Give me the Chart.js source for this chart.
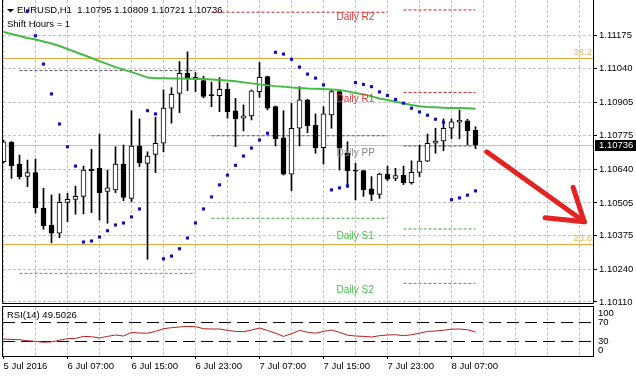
<!DOCTYPE html>
<html><head><meta charset="utf-8">
<script src="https://cdn.jsdelivr.net/npm/chart.js@4.4.1/dist/chart.umd.min.js"></script>
<style>
html,body{margin:0;padding:0;background:#fff;width:636px;height:378px;overflow:hidden;}
#main{position:absolute;left:0;top:0;}
#rsi{position:absolute;left:0;top:304px;}
</style></head><body>
<canvas id="main" width="636" height="308"></canvas>
<canvas id="rsi" width="636" height="74"></canvas>
<script>
// ---------- data ----------
const symbolTitle = 'EURUSD,H1  1.10795 1.10809 1.10721 1.10736';
const shiftText = 'Shift Hours = 1';
const rsiTitle = 'RSI(14) 49.5026';
const timeLabels = ['5 Jul 2016','6 Jul 07:00','6 Jul 15:00','6 Jul 23:00','7 Jul 07:00','7 Jul 15:00','7 Jul 23:00','8 Jul 07:00'];
const priceTicks = [1.11175,1.11040,1.10905,1.10775,1.10640,1.10505,1.10375,1.10240,1.10110];
const rsiTicks = [0,30,70,100];

const opens = [1.10670,1.10748,1.10660,1.10611,1.10626,1.10484,1.10417,1.10384,1.10507,1.10519,
1.10531,1.10640,1.10643,1.10551,1.10557,1.10660,1.10523,1.10732,1.10663,1.10699,
1.10743,1.10883,1.10942,1.11022,1.11006,1.10993,1.10934,1.10933,1.10958,1.10872,
1.10843,1.10852,1.10949,1.11009,1.10889,1.10765,1.10620,1.10803,1.10916,1.10816,
1.10725,1.10856,1.10949,1.10703,1.10635,1.10634,1.10561,1.10539,1.10620,1.10603,
1.10615,1.10586,1.10627,1.10672,1.10743,1.10752,1.10803,1.10827,1.10833,1.10795];
const highs = [1.10756,1.10750,1.10696,1.10676,1.10680,1.10563,1.10537,1.10541,1.10543,1.10572,
1.10652,1.10719,1.10780,1.10636,1.10729,1.10736,1.10873,1.10840,1.10709,1.10847,
1.10956,1.10965,1.11069,1.11108,1.11025,1.11011,1.10987,1.11005,1.10982,1.10922,
1.10896,1.10956,1.11065,1.11011,1.10892,1.10873,1.10902,1.10969,1.10918,1.10860,
1.10889,1.10956,1.10953,1.10749,1.10663,1.10636,1.10610,1.10624,1.10652,1.10643,
1.10652,1.10673,1.10736,1.10780,1.10803,1.10840,1.10840,1.10876,1.10839,1.10809];
const lows = [1.10664,1.10603,1.10600,1.10570,1.10464,1.10400,1.10346,1.10366,1.10430,1.10460,
1.10461,1.10466,1.10437,1.10424,1.10546,1.10514,1.10510,1.10650,1.10280,1.10626,
1.10709,1.10823,1.10865,1.10953,1.10949,1.10924,1.10889,1.10869,1.10843,1.10729,
1.10792,1.10836,1.10926,1.10876,1.10732,1.10616,1.10554,1.10732,1.10785,1.10703,
1.10660,1.10803,1.10636,1.10567,1.10517,1.10531,1.10514,1.10523,1.10594,1.10594,
1.10578,1.10580,1.10610,1.10670,1.10703,1.10713,1.10761,1.10761,1.10736,1.10721];
const closes = [1.10749,1.10654,1.10610,1.10626,1.10486,1.10414,1.10384,1.10507,1.10519,1.10531,
1.10636,1.10634,1.10546,1.10565,1.10660,1.10527,1.10732,1.10666,1.10692,1.10743,
1.10883,1.10938,1.11022,1.11005,1.10999,1.10930,1.10933,1.10958,1.10869,1.10840,
1.10852,1.10952,1.11006,1.10883,1.10760,1.10620,1.10803,1.10916,1.10813,1.10725,
1.10860,1.10949,1.10724,1.10634,1.10632,1.10557,1.10539,1.10620,1.10600,1.10614,
1.10586,1.10627,1.10672,1.10743,1.10752,1.10803,1.10829,1.10836,1.10793,1.10736];
const maValues = [1.11187,1.11179,1.11171,1.11163,1.11157,1.11149,1.11141,1.11131,1.11119,1.11107,
1.11095,1.11083,1.11071,1.11059,1.11047,1.11037,1.11027,1.11017,1.11005,1.11002,
1.11002,1.11001,1.11001,1.11000,1.10999,1.10999,1.10997,1.10995,1.10993,1.10990,
1.10986,1.10982,1.10978,1.10974,1.10971,1.10969,1.10966,1.10964,1.10962,1.10961,
1.10960,1.10958,1.10956,1.10950,1.10944,1.10938,1.10930,1.10922,1.10916,1.10909,
1.10903,1.10896,1.10891,1.10888,1.10887,1.10885,1.10884,1.10884,1.10883,1.10881];
const sarValues = [null,null,null,1.11271,1.11172,1.11059,1.10940,1.10820,1.10729,1.10652,
1.10349,1.10353,1.10369,1.10394,1.10417,1.10425,1.10449,1.10481,1.10873,1.10860,
1.10282,1.10293,1.10322,1.10365,1.10425,1.10481,1.10529,1.10577,1.10616,1.10655,
1.10692,1.10724,1.10756,1.10783,1.11106,1.11099,1.11078,1.11047,1.11019,1.11003,
1.10976,1.10557,1.10565,1.10573,1.10985,1.10978,1.10969,1.10948,1.10934,1.10918,
1.10903,1.10883,1.10868,1.10855,1.10839,1.10827,1.10518,1.10525,1.10536,1.10553];
const rsiValues = [35.1,34.2,33.6,31.5,30.1,28.5,29.1,32.6,35.7,36.3,
40.4,39.8,37.1,40.4,43.3,41.2,48.7,47.4,47.0,50.7,
56.3,58.4,59.8,61.0,60.4,56.3,55.7,55.7,52.8,50.7,
50.1,53.6,57.7,52.8,47.0,40.4,46.0,52.8,49.1,47.0,
50.7,53.6,48.7,42.9,41.2,40.4,39.2,41.9,43.3,43.9,
41.9,43.9,47.0,50.7,51.5,53.2,55.3,55.7,54.2,49.5];

const pivotStart = [2,26,50];
const pivotEnd   = [24,48,59];
const pivotR2 = [null,null,1.11275];
const pivotR1 = [null,1.11266,1.10946];
const pivotPP = [1.11033,1.10773,1.10732];
const pivotS1 = [1.10224,1.10444,1.10401];
const pivotS2 = [null,null,1.10184];
const fiboLevels = [1.11082,1.10340];
const fiboLabels = ['38.2','23.6'];
const bidPrice = 1.10736;
const rsiLevels = [30,70];

// ---------- setup ----------
Chart.defaults.font.family = 'Liberation Sans';
const FONT = '9.5px "Liberation Sans"';
const idx = opens.map((_, i) => i);
const xMin = -0.0625, xMax = 73.6875;
const yMax = 1.11175 + 35 * 0.0000399, yMin = 1.11175 - 268 * 0.0000399;
const gridK = []; for (let k = 0; k <= 72; k += 4) gridK.push(k);

const RED = '#cc2020', GRAY = '#5a5a5a', GREEN = '#3aaa3a';
const pivotSets = [];
[[pivotR2, RED],[pivotR1, RED],[pivotPP, GRAY],[pivotS1, GREEN],[pivotS2, GREEN]].forEach(([vals, col]) => {
  vals.forEach((v, d) => {
    if (v == null) return;
    pivotSets.push({type:'line', data:[{x:pivotStart[d], y:v},{x:pivotEnd[d], y:v}],
      borderColor:col, borderWidth:1, borderDash:[3,2], pointRadius:0, fill:false, order:10});
  });
});

const mainPlugin = {
  id:'mainDeco',
  beforeDatasetsDraw(chart){
    const {ctx, chartArea:a, scales:{y}} = chart;
    ctx.save();
    ctx.lineWidth = 1;
    let py = Math.round(y.getPixelForValue(bidPrice)) + 0.5;
    ctx.strokeStyle = '#c0c0c0';
    ctx.beginPath(); ctx.moveTo(a.left, py); ctx.lineTo(a.right, py); ctx.stroke();
    ctx.strokeStyle = '#e8a840';
    fiboLevels.forEach(v => {
      const p = Math.round(y.getPixelForValue(v)) + 0.5;
      ctx.beginPath(); ctx.moveTo(a.left, p); ctx.lineTo(a.right, p); ctx.stroke();
    });
    ctx.fillStyle = '#000';
    ctx.beginPath(); ctx.moveTo(7, 9); ctx.lineTo(14, 9); ctx.lineTo(10.5, 12.5); ctx.closePath(); ctx.fill();
    ctx.font = FONT; ctx.textBaseline = 'middle'; ctx.textAlign = 'left';
    ctx.fillText(symbolTitle, 17, 10.5);
    ctx.fillText(shiftText, 7, 24);
    ctx.restore();
  },
  afterDraw(chart){
    const {ctx, chartArea:a, scales:{x, y}} = chart;
    ctx.save();
    ctx.font = '10px "Liberation Sans"'; ctx.textBaseline = 'middle'; ctx.textAlign = 'left';
    const lx = x.getPixelForValue(pivotStart[2]) - 67;
    [['Daily R2', pivotR2[2], '#dd3a3a'],['Daily R1', pivotR1[2], '#dd3a3a'],['Daily PP', pivotPP[2], '#8a8a8a'],
     ['Daily S1', pivotS1[2], '#4cc04c'],['Daily S2', pivotS2[2], '#4cc04c']].forEach(([t, v, c]) => {
      ctx.fillStyle = c; ctx.fillText(t, lx, y.getPixelForValue(v) + 7);
    });
    ctx.font = FONT; ctx.textAlign = 'right'; ctx.fillStyle = '#f0b450';
    fiboLevels.forEach((v, i) => ctx.fillText(fiboLabels[i], a.right - 1, y.getPixelForValue(v) - 6));
    ctx.strokeStyle = '#000'; ctx.lineWidth = 1;
    ctx.beginPath();
    ctx.moveTo(a.left - 0.5, a.top); ctx.lineTo(a.left - 0.5, a.bottom + 0.5);
    ctx.lineTo(a.right + 0.5, a.bottom + 0.5); ctx.lineTo(a.right + 0.5, a.top);
    ctx.stroke();
    const py = Math.round(y.getPixelForValue(bidPrice));
    ctx.fillStyle = '#000'; ctx.fillRect(a.right + 2, py - 5, chart.width - a.right - 2, 11);
    ctx.fillStyle = '#fff'; ctx.textAlign = 'left'; ctx.font = FONT;
    ctx.fillText(bidPrice.toFixed(5), a.right + 6, py + 0.5);
    const P = (k, v) => [x.getPixelForValue(k), y.getPixelForValue(v)];
    const s = P(60.4, 1.10709), t = P(72.6, 1.10430), w1 = P(71.2, 1.10567), w2 = P(67.7, 1.10446);
    ctx.strokeStyle = '#e32222'; ctx.lineWidth = 5; ctx.lineCap = 'round'; ctx.lineJoin = 'round';
    ctx.beginPath(); ctx.moveTo(s[0], s[1]); ctx.lineTo(t[0], t[1]); ctx.stroke();
    ctx.beginPath(); ctx.moveTo(w1[0], w1[1]); ctx.lineTo(t[0], t[1]); ctx.lineTo(w2[0], w2[1]); ctx.stroke();
    ctx.restore();
  }
};

new Chart(document.getElementById('main'), {
  type:'bar',
  data:{datasets:[
    {type:'line', data: idx.map(i => ({x:i, y:sarValues[i]})), showLine:false, pointStyle:'rect',
     pointRadius:2.2, pointBorderWidth:0, pointBackgroundColor:'#1010b4', borderColor:'#1010b4', order:1},
    {type:'line', data: idx.map(i => ({x:i, y:maValues[i]})), borderColor:'#45bb45', borderWidth:2,
     pointRadius:0, tension:0, fill:false, order:2},
    {type:'bar', data: idx.map(i => ({x:i, y:[opens[i], closes[i]]})),
     backgroundColor: c => closes[c.dataIndex] >= opens[c.dataIndex] ? '#ffffff' : '#000000',
     borderColor:'#000', borderWidth:1, borderSkipped:false, barThickness:5, grouped:false, minBarLength:1, order:5},
    {type:'bar', data: idx.map(i => ({x:i, y:[lows[i], highs[i]]})),
     backgroundColor:'#000', borderWidth:0, barThickness:1, grouped:false, order:6},
    ...pivotSets
  ]},
  options:{
    responsive:false, animation:false, events:[],
    layout:{autoPadding:false, padding:{left:3, top:0, right:0, bottom:5}},
    plugins:{legend:{display:false}, tooltip:{enabled:false}},
    scales:{
      x:{type:'linear', min:xMin, max:xMax, bounds:'data', offset:false,
         afterBuildTicks: s => { s.ticks = gridK.map(v => ({value:v})); },
         afterFit: s => { s.height = 0; s.paddingLeft = 0; s.paddingRight = 0; },
         ticks:{display:false}, grid:{color:'#c4c4c4', offset:false, drawTicks:false},
         border:{display:false, dash:[3,2]}},
      y:{type:'linear', position:'right', min:yMin, max:yMax, bounds:'data',
         afterBuildTicks: s => { s.ticks = priceTicks.map(v => ({value:v})); },
         afterFit: s => { s.width = 43; s.paddingTop = 0; s.paddingBottom = 0; },
         ticks:{autoSkip:false, color:'#000', padding:2, font:{family:'Liberation Sans', size:9.5},
                callback: v => Number(v).toFixed(5)},
         grid:{color:'#c4c4c4', tickColor:'#000', tickLength:4, tickBorderDash:[], drawTicks:true},
         border:{display:false, dash:[3,2]}}
    }
  },
  plugins:[mainPlugin]
});

const rsiPlugin = {
  id:'rsiDeco',
  afterDraw(chart){
    const {ctx, chartArea:a, scales:{y}} = chart;
    ctx.save();
    ctx.strokeStyle = '#000'; ctx.lineWidth = 1;
    ctx.strokeRect(a.left - 0.5, a.top - 1, a.right - a.left + 1, a.bottom - a.top + 1.5);
    ctx.fillStyle = '#000'; ctx.font = FONT; ctx.textBaseline = 'middle'; ctx.textAlign = 'left';
    ctx.fillText(rsiTitle, 7, a.top + 8);
    rsiTicks.forEach(v => {
      let p = y.getPixelForValue(v);
      p = Math.min(Math.max(p, a.top + 6), a.bottom - 6);
      ctx.fillText(String(v), a.right + 5, p);
    });
    ctx.restore();
  }
};

new Chart(document.getElementById('rsi'), {
  type:'line',
  data:{datasets:[{data: idx.map(i => ({x:i, y:rsiValues[i]})), borderColor:'#b42020', borderWidth:1,
    pointRadius:0, tension:0, fill:false}]},
  options:{
    responsive:false, animation:false, events:[],
    layout:{autoPadding:false, padding:{left:3, top:3.5, right:0, bottom:0}},
    plugins:{legend:{display:false}, tooltip:{enabled:false}},
    scales:{
      x:{type:'linear', min:xMin, max:xMax, bounds:'data', offset:false,
         afterBuildTicks: s => { s.ticks = gridK.map(v => ({value:v})); },
         afterFit: s => { s.height = 22; s.paddingLeft = 0; s.paddingRight = 0; },
         ticks:{autoSkip:false, maxRotation:0, align:'start', padding:2, color:'#000',
                font:{family:'Liberation Sans', size:9.5},
                callback: v => (v % 8 === 0 && timeLabels[v / 8]) ? timeLabels[v / 8] : ''},
         grid:{color:'#c4c4c4', offset:false, drawTicks:true, tickLength:3, tickBorderDash:[],
               tickColor: c => (c.tick && c.tick.value % 8 === 0 && timeLabels[c.tick.value / 8]) ? '#000' : 'rgba(0,0,0,0)'},
         border:{display:false, dash:[3,2]}},
      y:{type:'linear', position:'right', min:0, max:100, bounds:'data',
         afterBuildTicks: s => { s.ticks = rsiTicks.map(v => ({value:v})); },
         afterFit: s => { s.width = 43; s.paddingTop = 0; s.paddingBottom = 0; },
         ticks:{display:false},
         grid:{drawTicks:false, color: c => (c.tick && rsiLevels.includes(c.tick.value)) ? '#000' : 'rgba(0,0,0,0)'},
         border:{display:false, dash:[12,6]}}
    }
  },
  plugins:[rsiPlugin]
});
</script>
</body></html>
